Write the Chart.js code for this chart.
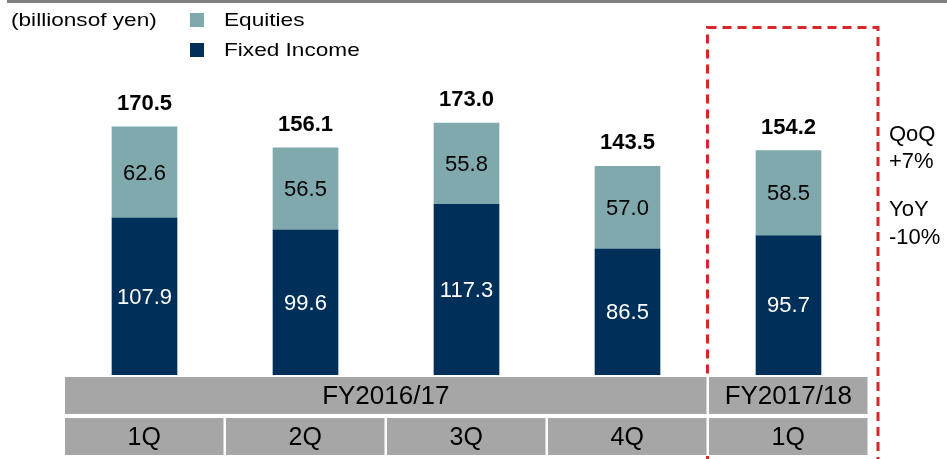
<!DOCTYPE html>
<html>
<head>
<meta charset="utf-8">
<script src="https://cdn.jsdelivr.net/npm/chart.js@4.4.1/dist/chart.umd.min.js"></script>
<style>
  html, body { margin: 0; padding: 0; background: #fff; }
  #wrap { position: relative; width: 947px; height: 459px; }
</style>
</head>
<body>
<div id="wrap"><canvas id="chart"></canvas></div>
<script>
// --- data ---
const quarters = ['1Q', '2Q', '3Q', '4Q', '1Q'];
const fiscalYears = [
  { label: 'FY2016/17', first: 0, last: 3 },
  { label: 'FY2017/18', first: 4, last: 4 }
];
const fixedIncome = [107.9, 99.6, 117.3, 86.5, 95.7];
const equities = [62.6, 56.5, 55.8, 57.0, 58.5];
const totals = ['170.5', '156.1', '173.0', '143.5', '154.2'];
const unitLabel = '(billionsof yen)';
const notes = ['QoQ', '+7%', 'YoY', '-10%'];

const FONT = '"Liberation Sans", Arial, sans-serif';
const NAVY = '#00305a';
const TEAL = '#80a9ae';

// text stretched a little wider, like the original slide
function wideText(ctx, text, x, y, sx) {
  ctx.save();
  ctx.translate(x, y);
  ctx.scale(sx, 1);
  ctx.fillText(text, 0, 0);
  ctx.restore();
}

// --- decorations drawn on the canvas ---
const decor = {
  id: 'decor',
  beforeDraw(chart) {
    const ctx = chart.ctx;
    ctx.save();
    // top rule
    ctx.fillStyle = '#7f7f7f';
    ctx.fillRect(7, 0, 940, 3);
    // unit + legend
    ctx.font = '19px ' + FONT;
    ctx.fillStyle = '#000';
    ctx.textBaseline = 'middle';
    wideText(ctx, unitLabel, 11, 21, 1.19);
    const items = [chart.data.datasets[1], chart.data.datasets[0]];
    items.forEach((ds, i) => {
      const y = 20 + i * 30;
      ctx.fillStyle = ds.backgroundColor;
      ctx.fillRect(190, y - 7, 14, 14);
      ctx.fillStyle = '#000';
      wideText(ctx, ds.label, 224, y + 1, 1.19);
    });
    // red dashed box
    ctx.strokeStyle = '#d9262a';
    ctx.lineWidth = 3;
    ctx.setLineDash([9, 6]);
    ctx.strokeRect(707.5, 27.5, 170.5, 460);
    ctx.restore();
  },
  afterDatasetsDraw(chart) {
    const ctx = chart.ctx;
    const x = chart.scales.x;
    ctx.save();
    ctx.textAlign = 'center';
    ctx.textBaseline = 'middle';
    // segment labels
    chart.data.datasets.forEach((ds, di) => {
      const meta = chart.getDatasetMeta(di);
      ctx.font = '22px ' + FONT;
      ctx.fillStyle = di === 0 ? '#fff' : '#000';
      meta.data.forEach((bar, i) => {
        const yc = (bar.y + bar.base) / 2;
        ctx.fillText(ds.data[i].toFixed(1), bar.x, yc + 1);
      });
    });
    // totals
    const top = chart.getDatasetMeta(1).data;
    ctx.font = 'bold 22px ' + FONT;
    ctx.fillStyle = '#000';
    top.forEach((bar, i) => ctx.fillText(totals[i], bar.x, bar.y - 23));

    // category table
    const colW = (chart.chartArea.right - chart.chartArea.left) / quarters.length;
    const edge = (i) => x.getPixelForValue(i) - colW / 2;
    ctx.fillStyle = '#fff';
    ctx.fillRect(edge(0) - 2, 376, colW * quarters.length + 4, 80);
    ctx.font = '26px ' + FONT;
    fiscalYears.forEach((fy) => {
      const x0 = edge(fy.first) + 1, x1 = edge(fy.last + 1) - 1.5;
      ctx.fillStyle = '#a6a6a6';
      ctx.fillRect(x0, 377, x1 - x0, 37);
      ctx.fillStyle = '#000';
      ctx.fillText(fy.label, (x0 + x1) / 2, 397);
    });
    ctx.font = '25px ' + FONT;
    quarters.forEach((q, i) => {
      const x0 = edge(i) + 1, x1 = edge(i + 1) - 1.5;
      ctx.fillStyle = '#a6a6a6';
      ctx.fillRect(x0, 418, x1 - x0, 37);
      ctx.fillStyle = '#000';
      ctx.fillText(q, (x0 + x1) / 2, 438);
    });

    // side notes
    ctx.textAlign = 'left';
    ctx.font = '22px ' + FONT;
    const ys = [135, 162, 210, 238];
    notes.forEach((t, i) => ctx.fillText(t, 889, ys[i]));
    ctx.restore();
  }
};

new Chart(document.getElementById('chart'), {
  type: 'bar',
  data: {
    labels: quarters,
    datasets: [
      { label: 'Fixed Income', data: fixedIncome, backgroundColor: NAVY, barThickness: 65 },
      { label: 'Equities', data: equities, backgroundColor: TEAL, barThickness: 65 }
    ]
  },
  options: {
    responsive: true,
    maintainAspectRatio: false,
    animation: false,
    layout: { padding: { left: 64, right: 78, top: 84, bottom: 84 } },
    scales: {
      x: { stacked: true, display: false },
      y: { stacked: true, display: false, min: 0, max: 200 }
    },
    plugins: { legend: { display: false }, tooltip: { enabled: false } }
  },
  plugins: [decor]
});
</script>
</body>
</html>
